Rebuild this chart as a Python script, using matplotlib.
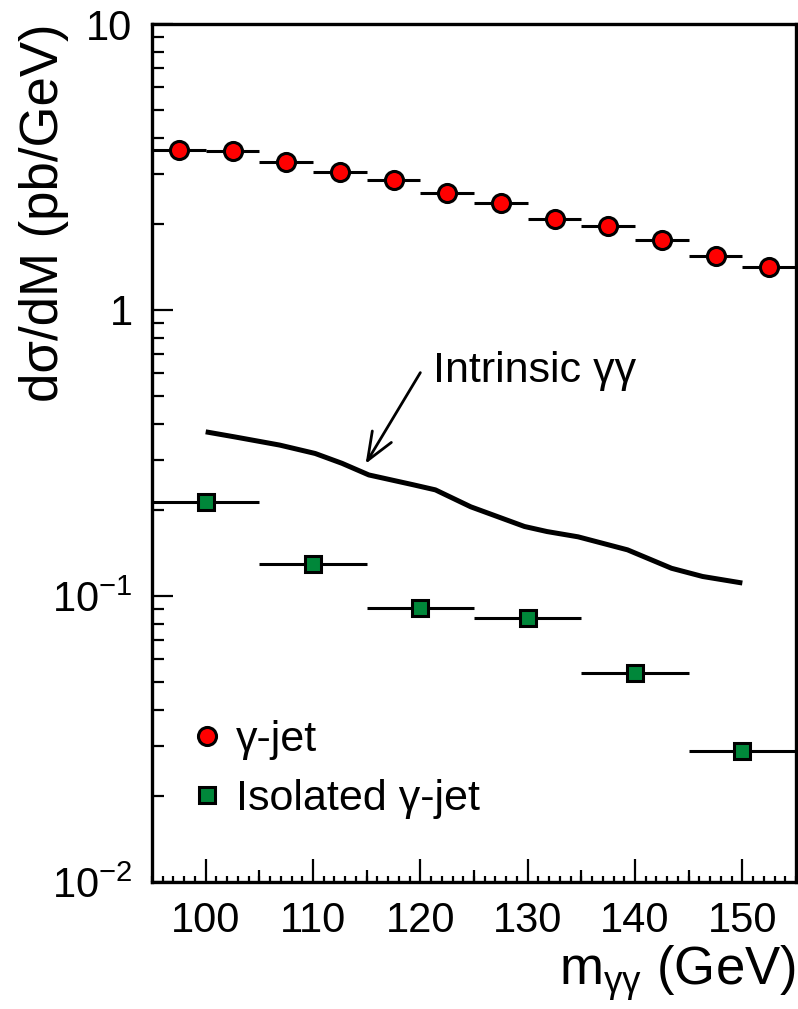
import matplotlib
matplotlib.use('Agg')
import matplotlib.pyplot as plt
from matplotlib.ticker import FixedLocator, MultipleLocator, NullFormatter, NullLocator, LogLocator

plt.rcParams['font.family'] = ['Liberation Sans', 'DejaVu Sans']
plt.rcParams['mathtext.fontset'] = 'custom'
plt.rcParams['mathtext.rm'] = 'Liberation Sans'
plt.rcParams['mathtext.it'] = 'Liberation Sans:italic'
plt.rcParams['mathtext.bf'] = 'Liberation Sans:bold'

# ---- data ----
gjet_mass = [97.5, 102.5, 107.5, 112.5, 117.5, 122.5, 127.5, 132.5, 137.5, 142.5, 147.5, 152.5]
gjet_xsec = [3.63, 3.60, 3.29, 3.04, 2.85, 2.56, 2.37, 2.08, 1.97, 1.76, 1.55, 1.41]
gjet_halfbin = 2.5

iso_mass = [100, 110, 120, 130, 140, 150]
iso_xsec = [0.213, 0.129, 0.0906, 0.0836, 0.0539, 0.0288]
iso_halfbin = 5.0

gg_mass = [100.0, 102.7, 106.9, 110.2, 112.7, 115.2, 119.3, 121.4, 124.7, 129.7,
           131.8, 134.7, 139.3, 143.4, 146.3, 150.0]
gg_xsec = [0.375, 0.360, 0.337, 0.315, 0.291, 0.265, 0.245, 0.235, 0.205, 0.175,
           0.168, 0.161, 0.145, 0.125, 0.117, 0.111]

ytick_vals = [0.01, 0.1, 1, 10]
ytick_labels = [r'$\mathregular{10^{-2}}$', r'$\mathregular{10^{-1}}$', '1', '10']
xtick_vals = [100, 110, 120, 130, 140, 150]
xmid_vals = [105, 115, 125, 135, 145]

legend_labels = ['γ-jet', 'Isolated γ-jet']
annot_text = 'Intrinsic γγ'

# ---- figure ----
fig = plt.figure(figsize=(7.98, 10.09), dpi=100)
ax = fig.add_axes([0.1905, 0.1259, 0.8070, 0.8503])

ax.set_yscale('log')
ax.set_xlim(95, 155)
ax.set_ylim(0.01, 10)

eb1 = ax.errorbar(gjet_mass, gjet_xsec, xerr=gjet_halfbin, fmt='o', color='black',
                  ecolor='black', elinewidth=2.2, capsize=0, markersize=13,
                  markerfacecolor='#ff0000', markeredgecolor='black',
                  markeredgewidth=2.2, zorder=4)
eb2 = ax.errorbar(iso_mass, iso_xsec, xerr=iso_halfbin, fmt='s', color='black',
                  ecolor='black', elinewidth=2.2, capsize=0, markersize=12,
                  markerfacecolor='#00873a', markeredgecolor='black',
                  markeredgewidth=2.2, zorder=4)
ax.plot(gg_mass, gg_xsec, color='black', lw=3.6, solid_capstyle='butt',
        solid_joinstyle='round', zorder=3)

# arrow + label
ax.annotate('', xy=(114.9, 0.29), xytext=(120.0, 0.604),
            arrowprops=dict(arrowstyle='->,head_length=1.0,head_width=0.4',
                            lw=2.0, color='black', mutation_scale=20,
                            shrinkA=0, shrinkB=0))
ax.text(121.2, 0.561, annot_text, fontsize=31, ha='left', va='baseline')

# ticks
ax.yaxis.set_major_locator(FixedLocator(ytick_vals))
ax.set_yticklabels(ytick_labels)
ax.yaxis.set_minor_locator(LogLocator(base=10, subs=range(2, 10)))
ax.yaxis.set_minor_formatter(NullFormatter())
ax.xaxis.set_major_locator(FixedLocator(xtick_vals))
ax.set_xticklabels([str(v) for v in xtick_vals])
ax.xaxis.set_minor_locator(MultipleLocator(1))

ax.tick_params(axis='y', which='major', direction='in', length=15, width=1.6,
               labelsize=30, pad=14, right=False)
ax.tick_params(axis='y', which='minor', direction='in', length=8.5, width=1.6, right=False)
ax.tick_params(axis='x', which='major', direction='in', length=16.5, width=1.6,
               labelsize=30, pad=14, top=False)
ax.tick_params(axis='x', which='minor', direction='in', length=4.5, width=1.6, top=False)

sec = ax.secondary_xaxis('bottom')
sec.xaxis.set_major_locator(FixedLocator(xmid_vals))
sec.xaxis.set_minor_locator(NullLocator())
sec.tick_params(axis='x', which='major', direction='in', length=8.5, width=1.6,
                labelbottom=False)
sec.spines['bottom'].set_visible(False)

for s in ax.spines.values():
    s.set_linewidth(2.4)

# axis titles
ax.set_xlabel(r'$\mathregular{m_{γγ}}$ (GeV)', fontsize=38, ha='right', va='top')
ax.xaxis.set_label_coords(1.0, -0.071)
fig.text(44 / 798, 1 - 24 / 1009, 'dσ/dM (pb/GeV)', fontsize=38, rotation=90,
         ha='center', va='top')

# legend
ax.legend(handles=[eb1[0], eb2[0]], labels=legend_labels, loc='upper left',
          bbox_to_anchor=(0.066, 0.189), frameon=False, fontsize=31,
          handlelength=0.6, handletextpad=0.37, labelspacing=0.44,
          borderpad=0, borderaxespad=0)

fig.savefig('out.png', dpi=100)
